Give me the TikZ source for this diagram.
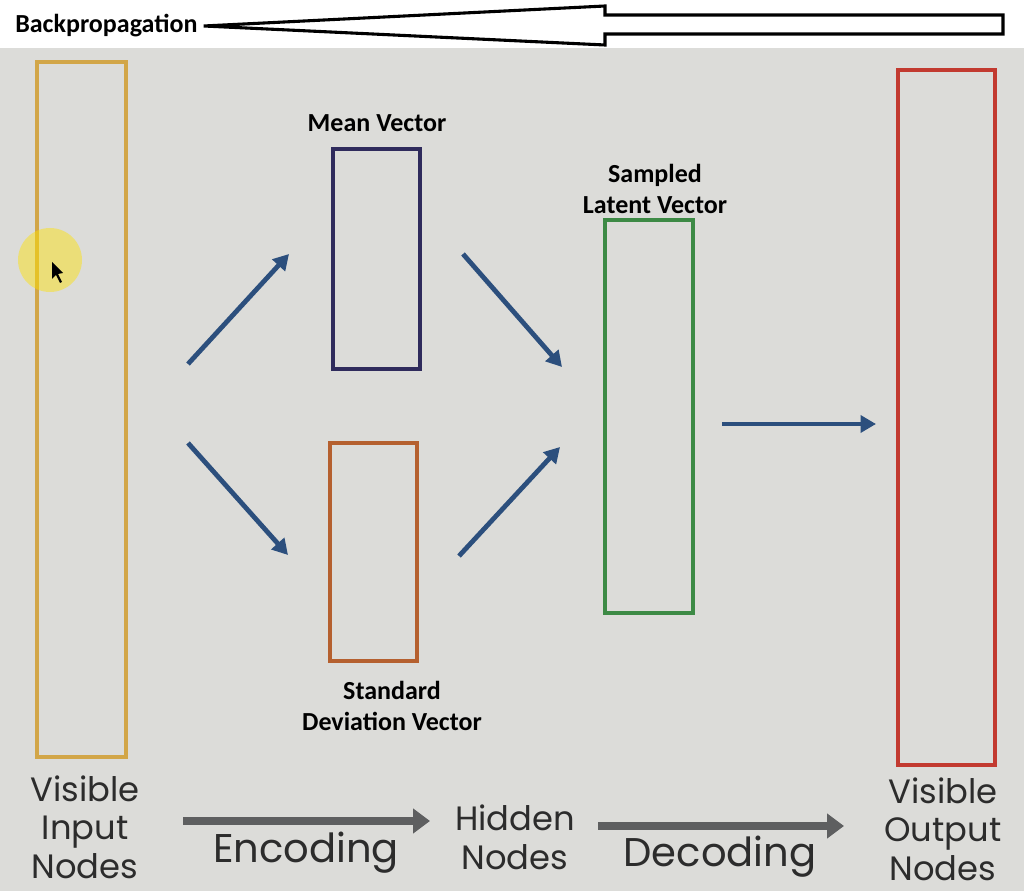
\documentclass[tikz,border=0pt]{standalone}
\usepackage{fontspec}
\usepackage{xcolor}
\usepackage{tikz}
\usetikzlibrary{calc,arrows.meta}
\newfontfamily\capfont{Carlito}
\newfontfamily\slidefont{Poppins}
\definecolor{screen}{HTML}{DCDCD9}
\definecolor{inbox}{HTML}{D2A648}
\definecolor{meanbox}{HTML}{2F2B5C}
\definecolor{stdbox}{HTML}{B5602F}
\definecolor{latbox}{HTML}{3D8A45}
\definecolor{outbox}{HTML}{C23A30}
\definecolor{blue}{HTML}{2C4F7D}
\definecolor{slate}{HTML}{5E5F60}
\definecolor{ink}{HTML}{2C2C2C}
\tikzset{
  vec/.style={draw=#1, line width=2.8pt, rectangle, inner sep=0pt},
  flow/.style={draw=blue, line width=3.4pt, -{Triangle[length=11pt,width=12pt]}},
  stage/.style={draw=slate, line width=6.2pt, -{Triangle[length=12pt,width=17pt]}},
  veclbl/.style={text=black, font=\capfont\bfseries\fontsize{18.5}{22}\selectfont, align=center},
  slide/.style={text=ink, font=\slidefont\fontsize{24}{27.5}\selectfont, align=center, inner sep=0pt},
  phase/.style={text=ink, font=\slidefont\fontsize{28.5}{30}\selectfont}
}

\begin{document}
\begin{tikzpicture}[x=0.025cm, y=-0.025cm]
  \useasboundingbox (0,0) rectangle (1024,891);
  \fill[white] (0,0) rectangle (1024,48);
  \fill[screen] (0,48) rectangle (1024,891);

  % the vectors
  \node[vec=inbox, minimum width=2.225cm, minimum height=17.375cm] (in) at (81.5,409.5) {};
  \node[vec=meanbox, minimum width=2.175cm, minimum height=5.5cm] (mean) at (376.5,259) {};
  \node[vec=stdbox, minimum width=2.175cm, minimum height=5.45cm] (std) at (373.5,552) {};
  \node[vec=latbox, minimum width=2.2cm, minimum height=9.825cm] (lat) at (649,416.5) {};
  \node[vec=outbox, minimum width=2.425cm, minimum height=17.375cm] (out) at (946.5,417.5) {};

  % pointer highlight
  \fill[yellow!85!orange, opacity=0.45] (50,260) circle (32);
  \fill[black] (52,262) -- (52,279) -- (56,275) -- (60,283) -- (62,282) -- (58,274) -- (63,273) -- cycle;

  \node[veclbl] (meanlbl) at (377,123) {Mean Vector};
  \node[veclbl] (latlbl) at (655,189) {Sampled\\Latent Vector};
  \node[veclbl] (stdlbl) at (392,706) {Standard\\Deviation Vector};

  \coordinate (a1) at (188,364); \coordinate (b1) at (289,254);
  \coordinate (a2) at (188,443); \coordinate (b2) at (288,555);
  \coordinate (a3) at (463,254); \coordinate (b3) at (562,367);
  \coordinate (a4) at (459,556); \coordinate (b4) at (560,447);
  \coordinate (a5) at (722,424); \coordinate (b5) at (876,424);
  \draw[flow] (a1) -- (b1);
  \draw[flow] (a2) -- (b2);
  \draw[flow] (a3) -- (b3);
  \draw[flow] (a4) -- (b4);
  \draw[flow] (a5) -- (b5);

  % bottom row
  \node[slide] (vin) at (85,827) {Visible\\Input\\Nodes};
  \node[phase] (enc) at (306,853) {Encoding};
  \node[slide] (hid) at (515,837) {Hidden\\Nodes};
  \node[phase] (dec) at (720,857) {Decoding};
  \node[slide] (vout) at (943,829) {Visible\\Output\\Nodes};
  \coordinate (e1) at (183,821); \coordinate (e2) at (430,821);
  \coordinate (d1) at (598,826); \coordinate (d2) at (844,826);
  \draw[stage] (e1) -- (e2);
  \draw[stage] (d1) -- (d2);

  % backpropagation arrow
  \node[veclbl, anchor=west, inner sep=0pt] (bp) at (15,26) {Backpropagation};
  \draw[black, line width=2.2pt, fill=white, line join=miter]
    ($(bp.east)+(6,0)$) -- (605,6) -- (605,15) -- (1003,15) -- (1003,34)
    -- (605,34) -- (605,45) -- cycle;
\end{tikzpicture}
\end{document}
